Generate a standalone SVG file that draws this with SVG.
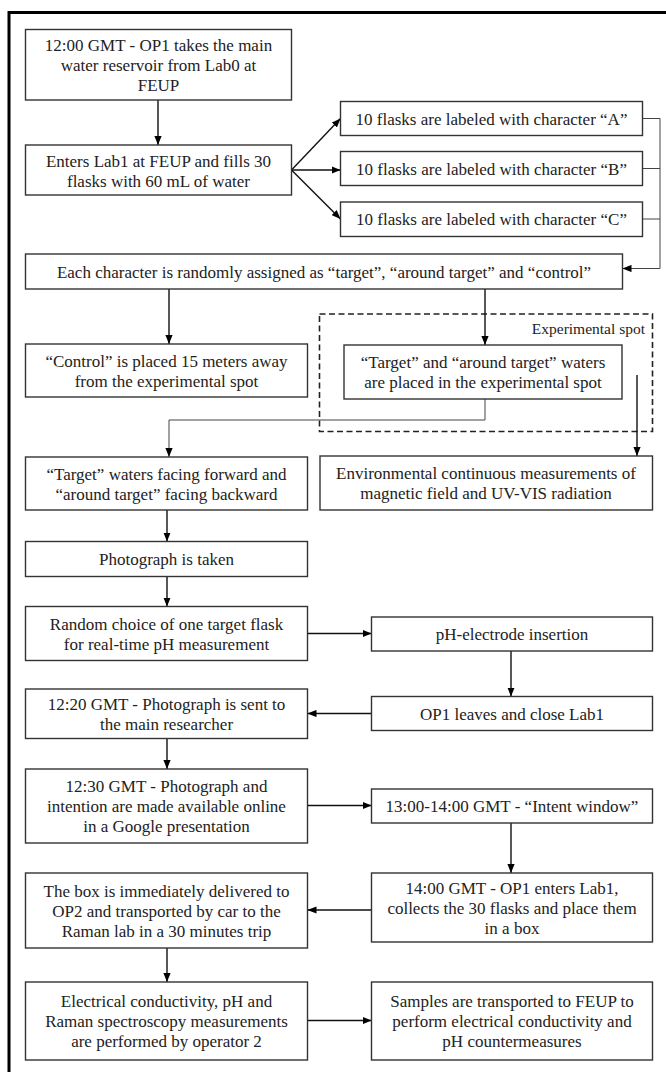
<svg xmlns="http://www.w3.org/2000/svg" width="666" height="1072" viewBox="0 0 666 1072">
<style>
.box{fill:#fff;stroke:#333;stroke-width:1.4}
.t{font-family:"Liberation Serif","Times New Roman",serif;font-size:17px;fill:#222;text-anchor:middle}
.lbl{font-family:"Liberation Serif","Times New Roman",serif;font-size:15.5px;fill:#222;text-anchor:end}
.c{fill:none;stroke:#111;stroke-width:1.4}
.thin{fill:none;stroke:#444;stroke-width:1}
.dash{fill:none;stroke:#222;stroke-width:1.6;stroke-dasharray:6 3.5}
.frame{stroke:#000;stroke-width:3;fill:none}
</style>
<defs>
<marker id="ah" viewBox="0 0 10 8" refX="10" refY="4" markerWidth="9" markerHeight="7.2" markerUnits="userSpaceOnUse" orient="auto">
<path d="M0,0 L10,4 L0,8 z" fill="#000"/>
</marker>
</defs>
<rect width="666" height="1072" fill="#fff"/>
<g id="frame">
<path class="frame" d="M9,1072 V12.5 H666"/>
</g>
<g id="experimental-spot">
<rect class="dash" x="319.5" y="314" width="333" height="117.5"/>
<text class="lbl" x="645" y="334">Experimental spot</text>
</g>
<g id="connectors">
<path class="c" d="M158,100 V145" marker-end="url(#ah)"/>
<path class="c" d="M291.5,170 L340.5,118.5" marker-end="url(#ah)"/>
<path class="c" d="M291.5,170 H340.5" marker-end="url(#ah)"/>
<path class="c" d="M291.5,170 L340.5,219" marker-end="url(#ah)"/>
<path class="thin" d="M642.5,118.5 H660 M642.5,168.5 H660 M642.5,219 H660"/>
<path class="thin" d="M660,118.5 V268.5 H622.5" marker-end="url(#ah)"/>
<path class="c" d="M169,289 V344" marker-end="url(#ah)"/>
<path class="c" d="M485,289 V345" marker-end="url(#ah)"/>
<path class="thin" d="M485,399 V420 H169 V457" marker-end="url(#ah)"/>
<path class="c" d="M637,375 V456" marker-end="url(#ah)"/>
<path class="c" d="M167,510 V541.5" marker-end="url(#ah)"/>
<path class="c" d="M167,576.5 V606.5" marker-end="url(#ah)"/>
<path class="c" d="M307.5,633.5 H371.5" marker-end="url(#ah)"/>
<path class="c" d="M511,651 V696.5" marker-end="url(#ah)"/>
<path class="c" d="M371.5,713.5 H307.5" marker-end="url(#ah)"/>
<path class="c" d="M167,738.5 V769" marker-end="url(#ah)"/>
<path class="c" d="M307.5,805.5 H371.5" marker-end="url(#ah)"/>
<path class="c" d="M511,823 V873" marker-end="url(#ah)"/>
<path class="c" d="M371.5,910 H307.5" marker-end="url(#ah)"/>
<path class="c" d="M167,948 V982" marker-end="url(#ah)"/>
<path class="c" d="M307.5,1020.5 H371.5" marker-end="url(#ah)"/>
</g>
<g id="n1">
<rect class="box" x="25.5" y="29.5" width="266" height="70.5"/>
<text class="t" x="158.5" y="51">12:00 GMT - OP1 takes the main</text>
<text class="t" x="158.5" y="71">water reservoir from Lab0 at</text>
<text class="t" x="158.5" y="91">FEUP</text>
</g>
<g id="n2">
<rect class="box" x="25.5" y="145" width="266" height="50"/>
<text class="t" x="158.5" y="166.5">Enters Lab1 at FEUP and fills 30</text>
<text class="t" x="158.5" y="186.5">flasks with 60 mL of water</text>
</g>
<g id="nA">
<rect class="box" x="340.5" y="101.5" width="302" height="34"/>
<text class="t" x="491.5" y="124.5">10 flasks are labeled with character “A”</text>
</g>
<g id="nB">
<rect class="box" x="340.5" y="151.5" width="302" height="34"/>
<text class="t" x="491.5" y="174.5">10 flasks are labeled with character “B”</text>
</g>
<g id="nC">
<rect class="box" x="340.5" y="202" width="302" height="34.5"/>
<text class="t" x="491.5" y="225">10 flasks are labeled with character “C”</text>
</g>
<g id="n-assign">
<rect class="box" x="25.5" y="254" width="597" height="35"/>
<text class="t" x="324" y="277.5">Each character is randomly assigned as “target”, “around target” and “control”</text>
</g>
<g id="n-control">
<rect class="box" x="25.5" y="344" width="282" height="53"/>
<text class="t" x="166.5" y="366.5">“Control” is placed 15 meters away</text>
<text class="t" x="166.5" y="386.5">from the experimental spot</text>
</g>
<g id="n-target-placed">
<rect class="box" x="344" y="345" width="278" height="54"/>
<text class="t" x="483" y="368">“Target” and “around target” waters</text>
<text class="t" x="483" y="388">are placed in the experimental spot</text>
</g>
<g id="n-facing">
<rect class="box" x="25.5" y="457" width="282" height="53"/>
<text class="t" x="166.5" y="479.5">“Target” waters facing forward and</text>
<text class="t" x="166.5" y="499.5">“around target” facing backward</text>
</g>
<g id="n-env">
<rect class="box" x="320" y="456" width="332.5" height="54"/>
<text class="t" x="486" y="479">Environmental continuous measurements of</text>
<text class="t" x="486" y="499">magnetic field and UV-VIS radiation</text>
</g>
<g id="n-photo">
<rect class="box" x="25.5" y="541.5" width="282" height="35"/>
<text class="t" x="166.5" y="565">Photograph is taken</text>
</g>
<g id="n-random">
<rect class="box" x="25.5" y="606.5" width="282" height="54"/>
<text class="t" x="166.5" y="629.5">Random choice of one target flask</text>
<text class="t" x="166.5" y="649.5">for real-time pH measurement</text>
</g>
<g id="n-ph">
<rect class="box" x="371.5" y="617" width="281" height="34"/>
<text class="t" x="512" y="640">pH-electrode insertion</text>
</g>
<g id="n-leaves">
<rect class="box" x="371.5" y="696.5" width="281" height="34"/>
<text class="t" x="512" y="719.5">OP1 leaves and close Lab1</text>
</g>
<g id="n-1220">
<rect class="box" x="25.5" y="689" width="282" height="49.5"/>
<text class="t" x="166.5" y="709.5">12:20 GMT - Photograph is sent to</text>
<text class="t" x="166.5" y="729.5">the main researcher</text>
</g>
<g id="n-1230">
<rect class="box" x="25.5" y="769" width="282" height="74"/>
<text class="t" x="166.5" y="792">12:30 GMT - Photograph and</text>
<text class="t" x="166.5" y="812">intention are made available online</text>
<text class="t" x="166.5" y="832">in a Google presentation</text>
</g>
<g id="n-intent">
<rect class="box" x="371.5" y="789" width="281" height="34"/>
<text class="t" x="512" y="812">13:00-14:00 GMT - “Intent window”</text>
</g>
<g id="n-1400">
<rect class="box" x="371.5" y="873" width="281" height="69"/>
<text class="t" x="512" y="893.5">14:00 GMT - OP1 enters Lab1,</text>
<text class="t" x="512" y="913.5">collects the 30 flasks and place them</text>
<text class="t" x="512" y="933.5">in a box</text>
</g>
<g id="n-delivered">
<rect class="box" x="25.5" y="873" width="282" height="75"/>
<text class="t" x="166.5" y="896.5">The box is immediately delivered to</text>
<text class="t" x="166.5" y="916.5">OP2 and transported by car to the</text>
<text class="t" x="166.5" y="936.5">Raman lab in a 30 minutes trip</text>
</g>
<g id="n-measure">
<rect class="box" x="25.5" y="982" width="282" height="78"/>
<text class="t" x="166.5" y="1007">Electrical conductivity, pH and</text>
<text class="t" x="166.5" y="1027">Raman spectroscopy measurements</text>
<text class="t" x="166.5" y="1047">are performed by operator 2</text>
</g>
<g id="n-samples">
<rect class="box" x="371.5" y="982" width="281" height="78"/>
<text class="t" x="512" y="1007">Samples are transported to FEUP to</text>
<text class="t" x="512" y="1027">perform electrical conductivity and</text>
<text class="t" x="512" y="1047">pH countermeasures</text>
</g>
</svg>
